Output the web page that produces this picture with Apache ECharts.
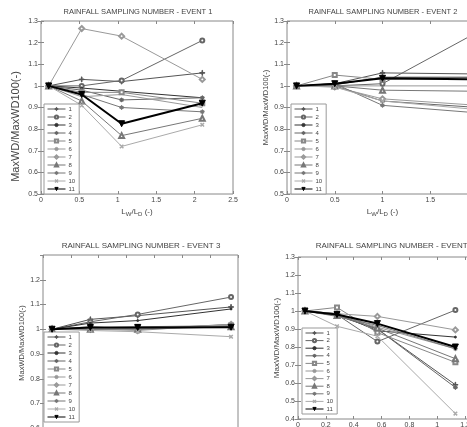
<!DOCTYPE html>
<html>
<head>
<meta charset="utf-8">
<script src="https://cdn.jsdelivr.net/npm/echarts@6/dist/echarts.min.js"></script>
<style>
  html, body { margin: 0; padding: 0; background: #fff; }
  #myChart { width: 467px; height: 427px; }
</style>
</head>
<body>
<div id="myChart"></div>
<script>
  // x positions (L_W/L_D) for each event
  const X1 = [0.1, 0.53, 1.05, 2.1]
  const X2 = [0.1, 0.5, 1.0, 2.0]
  const X3 = [0.065, 0.34, 0.68, 1.35]
  const X4 = [0.05, 0.28, 0.57, 1.13]

  // MaxWD/MaxWD100 per rainfall sampling number 1..11
  const EVENT1 = [
    [1, 1.03, 1.02, 1.06],
    [1, 1.0, 1.025, 1.21],
    [1, 0.99, 0.975, 0.945],
    [1, 0.98, 0.935, 0.945],
    [1, 0.97, 0.97, 0.92],
    [1, 0.95, 0.96, 0.9],
    [1, 1.265, 1.23, 1.03],
    [1, 0.93, 0.77, 0.85],
    [1, 0.96, 0.9, 0.88],
    [1, 0.91, 0.72, 0.82],
    [1, 0.96, 0.825, 0.92]
  ]
  const EVENT2 = [
    [1, 1.01, 1.06, 1.055],
    [1, 1.0, 1.01, 1.25],
    [1, 1.005, 1.04, 1.04],
    [1, 1.0, 0.93, 0.9],
    [1, 1.05, 1.03, 1.03],
    [1, 1.0, 1.0, 1.0],
    [1, 0.995, 0.94, 0.91],
    [1, 1.0, 0.98, 0.975],
    [1, 1.01, 0.91, 0.875],
    [1, 0.995, 0.93, 0.89],
    [1, 1.01, 1.035, 1.03]
  ]
  const EVENT3 = [
    [1, 1.04, 1.055, 1.09],
    [1, 1.03, 1.06, 1.13],
    [1, 1.025, 1.035, 1.082],
    [1, 1.01, 1.0, 1.02],
    [1, 1.005, 1.01, 1.015],
    [1, 1.0, 1.005, 1.01],
    [1, 1.0, 0.995, 1.02],
    [1, 1.0, 1.0, 1.01],
    [1, 1.005, 1.005, 1.01],
    [1, 0.995, 0.99, 0.97],
    [1, 1.007, 1.007, 1.008]
  ]
  const EVENT4 = [
    [1, 0.975, 0.9, 0.59],
    [1, 0.98, 0.83, 1.005],
    [1, 0.985, 0.89, 0.855],
    [1, 0.975, 0.9, 0.575],
    [1, 1.02, 0.88, 0.715],
    [1, 0.985, 0.91, 0.79],
    [1, 0.985, 0.97, 0.895],
    [1, 0.975, 0.905, 0.735],
    [1, 0.97, 0.92, 0.79],
    [1, 0.915, 0.86, 0.43],
    [1, 0.98, 0.93, 0.8]
  ]
  const NAMES = ['1', '2', '3', '4', '5', '6', '7', '8', '9', '10', '11']
  const TITLES = [
    'RAINFALL SAMPLING NUMBER - EVENT 1',
    'RAINFALL SAMPLING NUMBER - EVENT 2',
    'RAINFALL SAMPLING NUMBER - EVENT 3',
    'RAINFALL SAMPLING NUMBER - EVENT 4'
  ]
  const X_MAX = [2.5, 2, 1.4, 1.4]
  const X_INT = [0.5, 0.5, 0.2, 0.2]
  const Y_MIN = [0.5, 0.5, 0.5, 0.4]
  const Y_MAX = [1.3, 1.3, 1.3, 1.3]

  const XS = [X1, X2, X3, X4]
  const EVENTS = [EVENT1, EVENT2, EVENT3, EVENT4]

  // matlab-ish markers
  const PLUS = 'path://M4.4,0H5.6V10H4.4ZM0,4.4H10V5.6H0Z'
  const STAR = 'path://M4.4,0H5.6V10H4.4ZM0,4.4H10V5.6H0ZM1.3,2.1L2.1,1.3L8.7,7.9L7.9,8.7ZM7.9,1.3L8.7,2.1L2.1,8.7L1.3,7.9Z'
  const STYLES = [
    { symbol: PLUS, size: 5, color: '#555' },
    { symbol: 'emptyCircle', size: 4, color: '#666' },
    { symbol: 'circle', size: 2, color: '#333' },
    { symbol: STAR, size: 4, color: '#666' },
    { symbol: 'emptyRect', size: 4, color: '#888' },
    { symbol: 'none', size: 0, color: '#999' },
    { symbol: 'emptyDiamond', size: 5, color: '#999' },
    { symbol: 'emptyTriangle', size: 5, color: '#777' },
    { symbol: STAR, size: 4, color: '#777' },
    { symbol: PLUS, size: 4, color: '#aaa', rotate: 45 },
    { symbol: 'triangle', size: 6, color: '#000', rotate: 180, width: 2 }
  ]

  const GRIDS = [
    { left: 41, top: 21, width: 192, height: 173 },
    { left: 287, top: 21, width: 191, height: 173 },
    { left: 43, top: 255, width: 195, height: 198 },
    { left: 298, top: 257, width: 195, height: 162 }
  ]
  const TITLE_POS = [[138, 8], [383, 8], [141, 242], [395, 242]]
  const TITLE_SIZE = [7.5, 7.5, 8, 8]
  const YNAME_SIZE = [11, 7.5, 7.5, 8]
  // >0 moves the y-axis name up, <0 moves it down
  const YNAME_SHIFT = [-19, 0, 11, 0]
  const LEGEND_POS = [[44, 104], [291, 104], [44, 332], [302, 328]]
  const LEGEND_GAP = [2, 2, 2, 1.6]

  const font = 'Liberation Sans, Arial, sans-serif'
  const labelStyle = { fontSize: 7, color: '#444', fontFamily: font }

  let myChart = echarts.init(document.getElementById('myChart'))

  let xAxis = []
  let yAxis = []
  let series = []
  let legend = []
  let title = []

  GRIDS.forEach((g, i) => {
    // bottom x axis
    xAxis.push({
      gridIndex: i,
      type: 'value',
      min: 0,
      max: X_MAX[i],
      interval: X_INT[i],
      name: '{n|L}{s|W}{n|/L}{s|D}{n| (-)}',
      nameLocation: 'middle',
      nameGap: 13,
      nameTextStyle: {
        rich: {
          n: { fontSize: 8, color: '#444', fontFamily: font },
          s: { fontSize: 6, color: '#444', fontFamily: font, padding: [4, 0, 0, 0] }
        }
      },
      axisLine: { show: false },
      axisTick: { inside: true, length: 3, lineStyle: { color: '#888' } },
      axisLabel: Object.assign({ margin: 3 }, labelStyle),
      splitLine: { show: false }
    })
    // mirrored top axis (ticks only)
    xAxis.push({
      gridIndex: i,
      type: 'value',
      position: 'top',
      min: 0,
      max: X_MAX[i],
      interval: X_INT[i],
      axisLine: { show: false },
      axisTick: { inside: true, length: 3, lineStyle: { color: '#888' } },
      axisLabel: { show: false },
      splitLine: { show: false }
    })
    let sh = YNAME_SHIFT[i] * 2
    yAxis.push({
      gridIndex: i,
      type: 'value',
      min: Y_MIN[i],
      max: Y_MAX[i],
      interval: 0.1,
      name: 'MaxWD/MaxWD100(-)',
      nameLocation: 'middle',
      nameGap: i == 0 ? 20 : 17,
      nameTextStyle: {
        fontSize: YNAME_SIZE[i],
        color: '#444',
        fontFamily: font,
        padding: sh < 0 ? [0, -sh, 0, 0] : [0, 0, 0, sh]
      },
      axisLine: { show: false },
      axisTick: { inside: true, length: 3, lineStyle: { color: '#888' } },
      axisLabel: Object.assign({ margin: 3, showMaxLabel: i != 2 }, labelStyle),
      splitLine: { show: false }
    })
    yAxis.push({
      gridIndex: i,
      type: 'value',
      position: 'right',
      min: Y_MIN[i],
      max: Y_MAX[i],
      interval: 0.1,
      axisLine: { show: false },
      axisTick: { inside: true, length: 3, lineStyle: { color: '#888' } },
      axisLabel: { show: false },
      splitLine: { show: false }
    })

    EVENTS[i].forEach((vals, k) => {
      let st = STYLES[k]
      series.push({
        name: NAMES[k],
        type: 'line',
        xAxisIndex: i * 2,
        yAxisIndex: i * 2,
        data: vals.map((v, j) => [XS[i][j], v]),
        symbol: st.symbol,
        symbolSize: st.size,
        symbolRotate: st.rotate || 0,
        showSymbol: true,
        clip: true,
        animation: false,
        z: k == 10 ? 5 : 2,
        lineStyle: { color: st.color, width: st.width || 1 },
        itemStyle: { color: st.color, borderColor: st.color, borderWidth: 1 }
      })
    })

    legend.push({
      orient: 'vertical',
      left: LEGEND_POS[i][0],
      top: LEGEND_POS[i][1],
      data: NAMES,
      selectedMode: false,
      itemWidth: 18,
      itemHeight: 4,
      itemGap: LEGEND_GAP[i],
      padding: [2, 4, 2, 3],
      backgroundColor: '#fff',
      borderColor: '#999',
      borderWidth: 1,
      lineStyle: { width: 1 },
      itemStyle: { borderWidth: 1 },
      textStyle: { fontSize: 6, lineHeight: 6, color: '#444', fontFamily: font, padding: [0, 0, 0, -2] }
    })

    title.push({
      text: TITLES[i],
      left: TITLE_POS[i][0],
      top: TITLE_POS[i][1],
      textAlign: 'center',
      padding: 0,
      textStyle: { fontSize: TITLE_SIZE[i], fontWeight: 'normal', color: '#444', fontFamily: font }
    })
  })

  myChart.setOption({
    animation: false,
    title: title,
    legend: legend,
    grid: GRIDS.map((g) => Object.assign({
      show: true,
      borderColor: '#888',
      borderWidth: 1,
      backgroundColor: '#fff',
      outerBoundsMode: 'none',
      containLabel: false
    }, g)),
    xAxis: xAxis,
    yAxis: yAxis,
    series: series
  })
</script>
</body>
</html>
